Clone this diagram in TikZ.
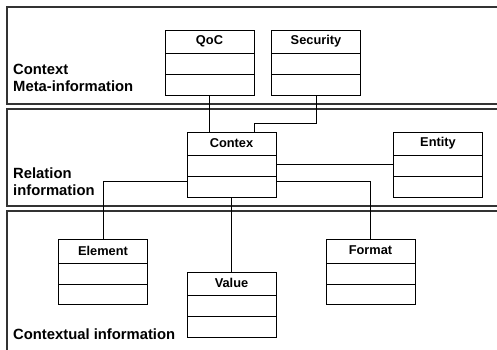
\documentclass[tikz,border=0pt]{standalone}
\usepackage{fontspec}
\setmainfont{Liberation Sans}
\begin{document}
\begin{tikzpicture}[x=1pt,y=-1pt,
  band/.style={draw=black!80,line width=1.3pt},
  cls/.style={draw,line width=0.8pt,minimum width=89pt,minimum height=65pt,inner sep=0pt,
    path picture={
      \draw[line width=0.8pt] ([yshift=-23.5pt]path picture bounding box.north west) -- ([yshift=-23.5pt]path picture bounding box.north east);
      \draw[line width=0.8pt] ([yshift=-44.5pt]path picture bounding box.north west) -- ([yshift=-44.5pt]path picture bounding box.north east);
    }},
  ttl/.style={font=\bfseries\fontsize{12.8}{15}\selectfont,anchor=center},
  blab/.style={font=\bfseries\fontsize{14.8}{17}\selectfont,anchor=base west,inner sep=0pt},
  conn/.style={draw,line width=0.8pt}]
\useasboundingbox (0,0) rectangle (497,349);
\begin{scope}
\clip (0,0) rectangle (497,349);
\draw[band] (7,7) rectangle (520,104);
\draw[band] (7,109) rectangle (520,206);
\draw[band] (7,211) rectangle (520,370);
\end{scope}
% band labels
\node[blab] (l1) at (13,74) {Context};
\node[blab] (l2) at (13,91) {Meta-information};
\node[blab] (l3) at (13,178) {Relation};
\node[blab] (l4) at (13,195) {information};
\node[blab] (l5) at (13,339) {Contextual information};
% classes
\node[cls] (qoc) at (209.5,62.5) {};
\node[ttl] at ([yshift=-11.5pt]qoc.north) {QoC};
\node[cls] (sec) at (316,62.5) {};
\node[ttl] at ([yshift=-11.5pt]sec.north) {Security};
\node[cls] (contex) at (231.5,164.5) {};
\node[ttl] at ([yshift=-11.5pt]contex.north) {Contex};
\node[cls] (entity) at (438,164.5) {};
\node[ttl] at ([yshift=-11.5pt]entity.north) {Entity};
\node[cls] (element) at (103,272) {};
\node[ttl] at ([yshift=-11.5pt]element.north) {Element};
\node[cls] (value) at (231.5,304.5) {};
\node[ttl] at ([yshift=-11.5pt]value.north) {Value};
\node[cls] (format) at (370.5,272) {};
\node[ttl] at ([yshift=-11.5pt]format.north) {Format};
% connectors
\draw[conn] (qoc.south) -- (qoc.south |- contex.north);
\draw[conn] (sec.south) -- ([yshift=-28pt]sec.south) -| ([xshift=22.5pt]contex.north);
\draw[conn] (contex.east) -- (entity.west);
\draw[conn] ([yshift=-16.5pt]contex.west) -| (element.north);
\draw[conn] ([yshift=-16.5pt]contex.east) -| (format.north);
\draw[conn] (contex.south) -- (value.north);
\end{tikzpicture}
\end{document}
